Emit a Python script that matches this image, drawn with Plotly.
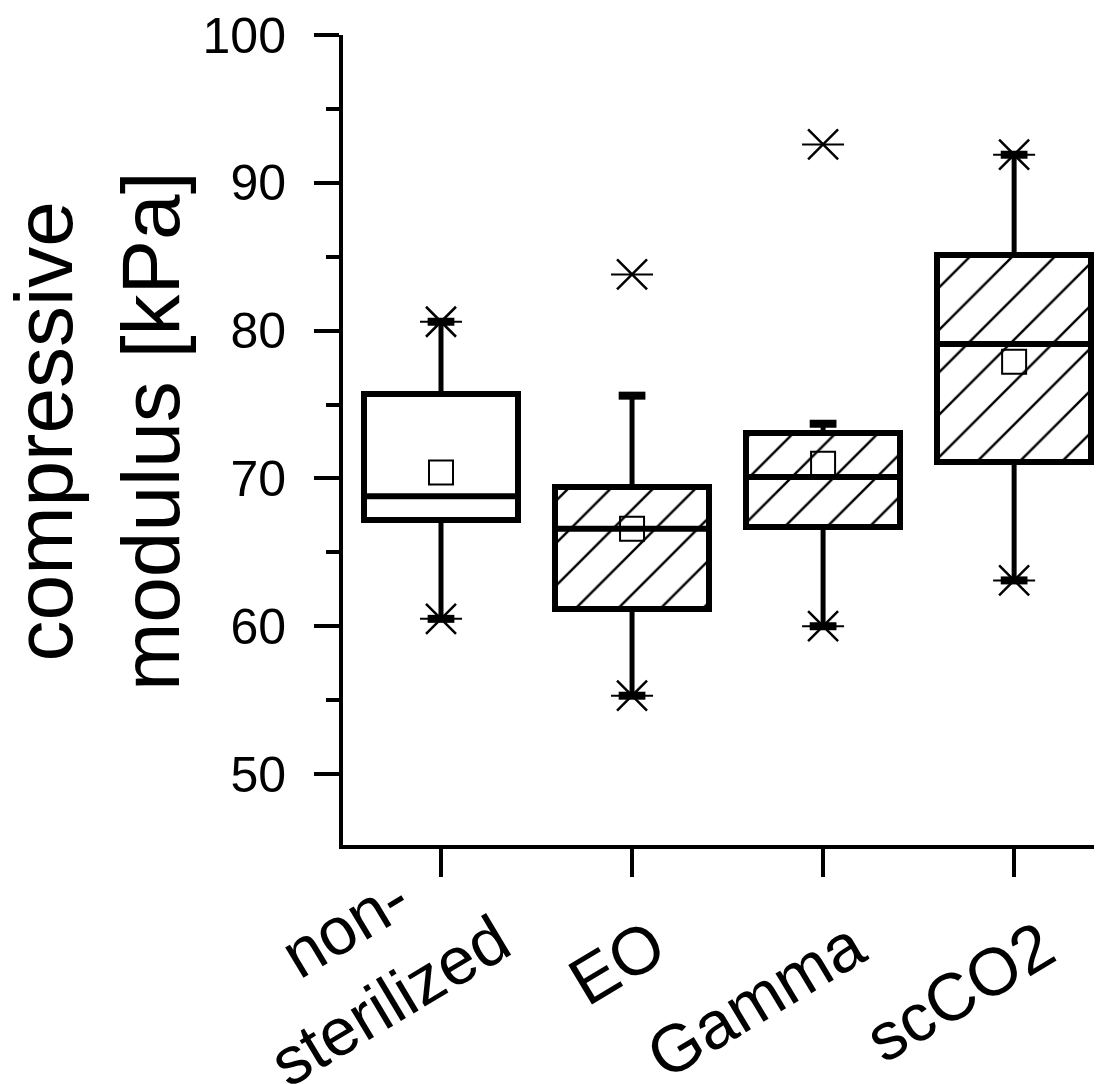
import plotly.graph_objects as go

# ---------------- data ----------------
categories = ["non-<br>sterilized", "EO", "Gamma", "scCO2"]
q1 = [67.2, 61.2, 66.7, 71.1]
median = [68.8, 66.6, 70.1, 79.1]
q3 = [75.7, 69.4, 73.1, 85.1]
mean = [70.4, 66.6, 71.0, 77.9]
whisker_low = [60.5, 55.3, 60.0, 63.1]
whisker_high = [80.6, 75.6, 73.7, 91.9]
cross_cat = [0, 0, 1, 1, 2, 2, 3, 3]
cross_val = [60.5, 80.6, 55.3, 83.8, 60.0, 92.6, 63.1, 91.9]
hatch = ["", "/", "/", "/"]
y_ticks = [50, 60, 70, 80, 90, 100]

# ---------------- style ----------------
FONT = "Liberation Sans, Arial, sans-serif"
BOX_W = 0.81
CAP_HALF = 0.07
MED_HALF = BOX_W / 2
label_xshift = [-74, -16, -68, -55]
label_yshift = [-118, -117, -154, -146]

xs = list(range(len(categories)))
fig = go.Figure()

# boxes as bars
fig.add_trace(go.Bar(
    x=xs, y=[b - a for a, b in zip(q1, q3)], base=q1, width=BOX_W,
    marker=dict(color="white", line=dict(color="black", width=6),
                pattern=dict(shape=hatch, fgcolor="black", bgcolor="white",
                             size=30, solidity=0.08, fgopacity=1)),
    showlegend=False, hoverinfo="skip"))

# whiskers
wx, wy = [], []
for i in xs:
    wx += [i, i, None, i, i, None]
    wy += [q3[i], whisker_high[i], None, q1[i], whisker_low[i], None]
fig.add_trace(go.Scatter(x=wx, y=wy, mode="lines",
                         line=dict(color="black", width=5),
                         showlegend=False, hoverinfo="skip"))

# caps
cx, cy = [], []
for i in xs:
    for v in (whisker_high[i], whisker_low[i]):
        cx += [i - CAP_HALF, i + CAP_HALF, None]
        cy += [v, v, None]
fig.add_trace(go.Scatter(x=cx, y=cy, mode="lines",
                         line=dict(color="black", width=8),
                         showlegend=False, hoverinfo="skip"))

# medians
mx, my = [], []
for i in xs:
    mx += [i - MED_HALF, i + MED_HALF, None]
    my += [median[i], median[i], None]
fig.add_trace(go.Scatter(x=mx, y=my, mode="lines",
                         line=dict(color="black", width=6),
                         showlegend=False, hoverinfo="skip"))

# means
fig.add_trace(go.Scatter(x=xs, y=mean, mode="markers",
                         marker=dict(symbol="square-open", size=24, color="black",
                                     line=dict(width=2, color="black")),
                         showlegend=False, hoverinfo="skip"))

# min / max crosses
fig.add_trace(go.Scatter(x=cross_cat, y=cross_val, mode="markers",
                         marker=dict(symbol="x-thin-open", size=30, color="black",
                                     line=dict(width=2.5, color="black")),
                         showlegend=False, hoverinfo="skip"))
fig.add_trace(go.Scatter(x=cross_cat, y=cross_val, mode="markers",
                         marker=dict(symbol="line-ew-open", size=30, color="black",
                                     line=dict(width=2, color="black")),
                         showlegend=False, hoverinfo="skip"))

# x category labels
for i, lab in enumerate(categories):
    fig.add_annotation(x=i, y=0, xref="x", yref="paper", text=lab,
                       showarrow=False, textangle=-31,
                       xanchor="center", yanchor="middle",
                       xshift=label_xshift[i], yshift=label_yshift[i],
                       font=dict(family=FONT, size=67, color="black"))

# y title
fig.add_annotation(x=0, y=0.511, xref="paper", yref="paper",
                   text="compressive<br>modulus [kPa]", showarrow=False,
                   textangle=-90, xanchor="center", yanchor="middle",
                   xshift=-246,
                   font=dict(family=FONT, size=82, color="black"))

# page body has an 8px default margin: offset the figure margins to compensate
fig.update_layout(
    width=1102, height=1084,
    margin=dict(l=335, r=8, t=27, b=247, autoexpand=False),
    plot_bgcolor="white", paper_bgcolor="white",
    bargap=0, showlegend=False,
    font=dict(family=FONT, color="black"),
    xaxis=dict(range=[-0.513, 3.46], tickvals=xs, showticklabels=False,
               automargin=False,
               ticks="outside", ticklen=28, tickwidth=4, tickcolor="black",
               showline=True, linewidth=4, linecolor="black",
               showgrid=False, zeroline=False),
    yaxis=dict(range=[45.2, 100], tickvals=y_ticks, ticks="outside",
               automargin=False, ticklabeloverflow="allow",
               ticklen=25, tickwidth=4, tickcolor="black",
               showline=True, linewidth=4, linecolor="black",
               showgrid=False, zeroline=False,
               tickfont=dict(family=FONT, size=50, color="black"),
               ticklabelstandoff=18,
               minor=dict(dtick=5, ticks="outside", ticklen=13, tickwidth=4,
                          tickcolor="black", showgrid=False)),
)

fig.write_html("out.html")
